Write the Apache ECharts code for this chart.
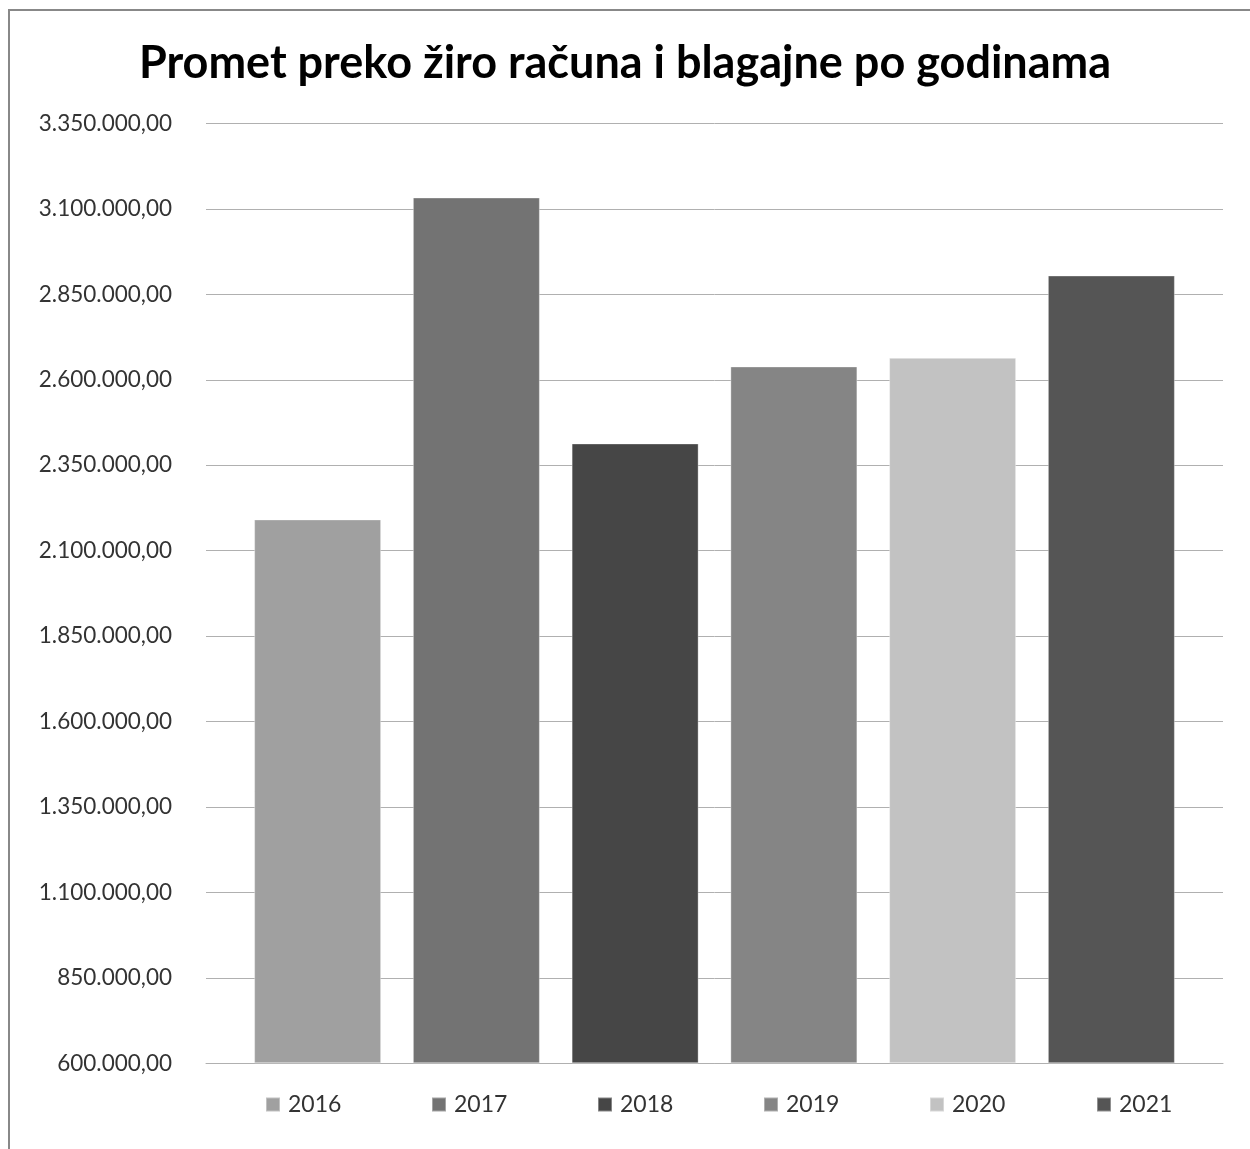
<!DOCTYPE html>
<html>
<head>
<meta charset="utf-8">
<script src="https://cdn.jsdelivr.net/npm/echarts@6/dist/echarts.min.js"></script>
<style>
html,body{margin:0;padding:0;background:#fff;}
#chart{width:1250px;height:1149px;}
</style>
</head>
<body>
<div id="chart"></div>
<script>
// Data
var years = ['2016', '2017', '2018', '2019', '2020', '2021'];
var values = [2191500, 3133500, 2413800, 2639100, 2664300, 2905300];
var colors = ['#a0a0a0', '#737373', '#464646', '#858585', '#c2c2c2', '#555555'];
var axisMin = 600000;
var axisMax = 3350000;
var axisStep = 250000;
var legendLeft = [265, 431, 597, 763, 929, 1096];

function fmt(v) {
  var s = Math.round(v).toString();
  var out = '';
  while (s.length > 3) {
    out = '.' + s.slice(-3) + out;
    s = s.slice(0, -3);
  }
  return s + out + ',00';
}

var FONT = 'Lato, "Open Sans", sans-serif';
var series = years.map(function (y, i) {
  return {
    name: y,
    type: 'bar',
    barWidth: 127,
    barGap: '25%',
    data: [values[i] - axisMin],
    itemStyle: { color: colors[i], borderColor: 'rgba(255,255,255,0.35)', borderWidth: 1 },
    emphasis: { disabled: true },
    animation: false
  };
});

var legends = years.map(function (y, i) {
  return {
    data: [y],
    left: legendLeft[i],
    top: 1093,
    icon: 'rect',
    itemWidth: 14,
    itemHeight: 14,
    padding: 0,
    selectedMode: false,
    textStyle: { fontFamily: FONT, fontSize: 23, color: '#333', padding: [0, 0, 0, 3] }
  };
});

var chart = echarts.init(document.getElementById('chart'));
chart.setOption({
  backgroundColor: '#fff',
  animation: false,
  color: colors,
  title: {
    text: 'Promet preko žiro računa i blagajne po godinama',
    left: 'center',
    top: 36,
    textStyle: { fontFamily: FONT, fontWeight: 'bold', fontSize: 45, color: '#000' }
  },
  legend: legends,
  grid: { left: 206, right: 27, top: 123.5, bottom: 85.7 },
  xAxis: {
    type: 'category',
    data: [''],
    axisLine: { show: true, lineStyle: { color: '#b0b0b0', width: 1 } },
    axisTick: { show: false },
    axisLabel: { show: false }
  },
  yAxis: {
    type: 'value',
    min: 0,
    max: axisMax - axisMin,
    interval: axisStep,
    axisLine: { show: false },
    axisTick: { show: false },
    splitLine: { show: true, lineStyle: { color: '#b0b0b0', width: 1 } },
    axisLabel: {
      margin: 34,
      fontFamily: FONT,
      fontSize: 22.5,
      color: '#333',
      formatter: function (v) { return fmt(v + axisMin); }
    }
  },
  graphic: [
    { type: 'line', shape: { x1: 9, y1: 10, x2: 9, y2: 1149 }, style: { stroke: '#888', lineWidth: 2 } },
    { type: 'line', shape: { x1: 8, y1: 10, x2: 1250, y2: 10 }, style: { stroke: '#888', lineWidth: 2 } }
  ],
  series: series
});
</script>
</body>
</html>
